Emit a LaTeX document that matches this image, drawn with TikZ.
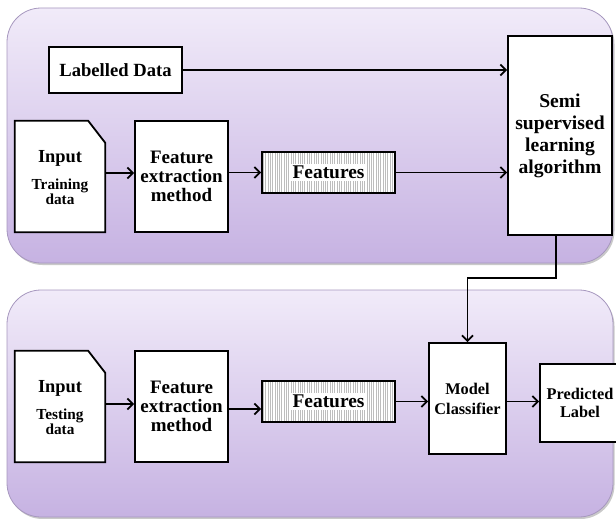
\documentclass[tikz,border=0pt]{standalone}
\usepackage{fontspec}
\setmainfont{Liberation Serif}
\usetikzlibrary{arrows.meta,shadows,calc}

\definecolor{paneltop}{HTML}{F1EBF9}
\definecolor{panelbot}{HTML}{C6B2E2}
\definecolor{panelline}{HTML}{A697BE}
\definecolor{hatchline}{HTML}{BDBDBD}

\newcommand{\fs}[2]{\fontsize{#1}{#2}\selectfont}

\tikzset{
  panel/.style={rounded corners=34pt, draw=panelline, line width=0.8pt,
    top color=paneltop, bottom color=panelbot,
    drop shadow={shadow xshift=1.5pt, shadow yshift=-2pt, opacity=0.3, fill=black!70}},
  box/.style={draw=black, line width=1.8pt, fill=white, align=center,
    inner sep=0pt, font=\bfseries},
  docframe/.style={draw=none, fill=none, inner sep=0pt,
    minimum width=90pt, minimum height=111pt},
  docline/.style={draw=black, line width=1.8pt, fill=white, line join=miter},
  hatchbox/.style={draw=black, line width=1.8pt, fill=white, inner sep=0pt,
    minimum width=133pt, minimum height=41pt,
    path picture={
      \foreach \i in {1.2,3.5,...,140}
        \draw[hatchline, line width=0.4pt]
          ([xshift=\i pt]path picture bounding box.south west) --
          ([xshift=\i pt]path picture bounding box.north west);
    }},
  hatchtext/.style={fill=white, inner sep=2.5pt, font=\bfseries\fs{19.4}{22}},
  link/.style={line width=1.8pt, -{Straight Barb[length=5.5pt,width=11pt]}},
}

\begin{document}
\begin{tikzpicture}[x=1pt, y=-1pt]
\useasboundingbox (0,0) rectangle (616,519);

% two background panels
\path[panel] (7,8) rectangle (613,263);
\path[panel] (7,290) rectangle (613,517);

% ---------- training stage ----------
\node[box, minimum width=133pt, minimum height=46pt,
      font=\bfseries\fs{18.6}{22}] (lab) at (115.5,70) {Labelled Data};

\node[docframe] (in1) at (60,176.5) {};
\filldraw[docline] (in1.south west) -- (in1.north west)
  -- ([xshift=-17pt]in1.north east) -- ([yshift=-22pt]in1.north east)
  -- (in1.south east) -- cycle;
\node[align=center, font=\bfseries, inner sep=0pt] (in1t) at ([yshift=-1pt]in1.center)
  {\fs{18.4}{22}Input\\[11pt]
   \fs{15.3}{18}Training\\ \fs{15.3}{18}data};

\node[box, minimum width=93pt, minimum height=111pt,
      font=\bfseries\fs{19}{19}] (fe1) at (181.5,176.5)
  {Feature\\extraction\\method};

\node[hatchbox] (ft1) at (328.5,172.5) {};
\node[hatchtext] (ft1t) at (ft1.center) {Features};

\node[box, minimum width=104pt, minimum height=199pt,
      font=\bfseries\fs{19.6}{22}] (semi) at (560,135.5)
  {Semi\\supervised\\learning\\algorithm};

\draw[link] ([yshift=3.5pt]in1.east) -- ([yshift=3.5pt]fe1.west);
\draw[link] (fe1.east |- ft1.west) -- (ft1.west);
\draw[link] (ft1.east) -- (ft1.east -| semi.west);
\draw[link] (lab.east) -- (lab.east -| semi.west);

% ---------- testing stage ----------
\node[docframe] (in2) at (60,406.5) {};
\filldraw[docline] (in2.south west) -- (in2.north west)
  -- ([xshift=-17pt]in2.north east) -- ([yshift=-22pt]in2.north east)
  -- (in2.south east) -- cycle;
\node[align=center, font=\bfseries, inner sep=0pt] (in2t) at ([yshift=-1pt]in2.center)
  {\fs{18.4}{22}Input\\[11pt]
   \fs{15.3}{18}Testing\\ \fs{15.3}{18}data};

\node[box, minimum width=93pt, minimum height=111pt,
      font=\bfseries\fs{19}{19}] (fe2) at (181.5,406.5)
  {Feature\\extraction\\method};

\node[hatchbox] (ft2) at (328.5,401.5) {};
\node[hatchtext] (ft2t) at (ft2.center) {Features};

\node[box, minimum width=77pt, minimum height=111pt,
      font=\bfseries\fs{16.3}{20}] (model) at (467.5,398.5)
  {Model\\Classifier};

\node[box, minimum width=80pt, minimum height=78pt,
      font=\bfseries\fs{16.3}{18.5}] (pred) at (580,403)
  {\raisebox{3pt}{\parbox{70pt}{\centering Predicted\\Label}}};

\draw[link] ([yshift=2.5pt]in2.east) -- ([yshift=2.5pt]fe2.west);
\draw[link] ([yshift=-2.5pt]fe2.east) -- ([yshift=-2.5pt]fe2.east -| ft2.west);
\draw[link] (ft2.east) -- (ft2.east -| model.west);
\draw[link] (ft2.east -| model.east) -- (ft2.east -| pred.west);

% trained model handed to the classifier
\coordinate (bend) at (0,278);
\draw[link] ([xshift=-4pt]semi.south) |- (bend -| model.north) -- (model.north);
\end{tikzpicture}
\end{document}
